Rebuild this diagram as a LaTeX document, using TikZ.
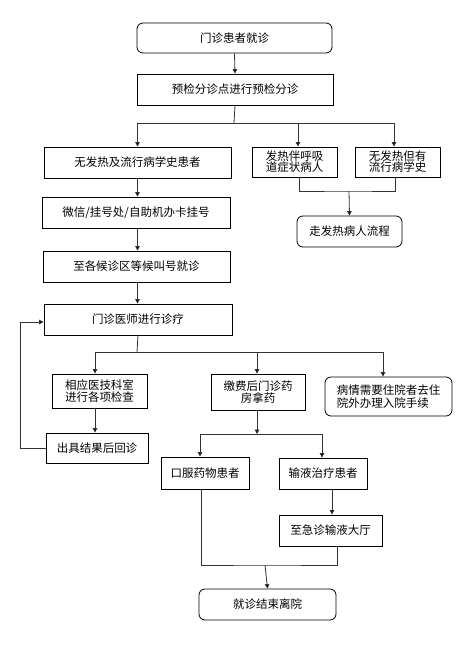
\documentclass[tikz,border=0pt]{standalone}
\usepackage{fontspec}
\setmainfont{Noto Sans CJK SC}
\usetikzlibrary{arrows.meta}
\tikzset{
  box/.style={draw=black, line width=0.8pt, fill=white, inner sep=1pt, font=\fontsize{11.5}{12.5}\selectfont, align=center},
  rbox/.style={box, rounded corners=6pt},
  conn/.style={draw=black!80, line width=0.8pt},
  arr/.style={conn, -{Triangle[width=4.5pt,length=4.5pt,fill=black]}}
}
\begin{document}
\begin{tikzpicture}[x=1pt,y=-1pt]
\useasboundingbox (0,0) rectangle (472,649);
\node[rbox, minimum width=195pt, minimum height=30pt] (n1) at (234.5,38) {门诊患者就诊};
\node[box, minimum width=196pt, minimum height=31pt] (n2) at (235,89.5) {预检分诊点进行预检分诊};
\node[box, minimum width=187pt, minimum height=31pt] (n3) at (137.5,162.5) {无发热及流行病学史患者};
\node[box, minimum width=85pt, minimum height=30pt, font=\fontsize{11.5}{11}\selectfont] (n4) at (294.5,162) {发热伴呼吸\\道症状病人};
\node[box, minimum width=85pt, minimum height=30pt, font=\fontsize{11.5}{11}\selectfont] (n5) at (397.5,162) {无发热但有\\流行病学史};
\node[rbox, minimum width=105pt, minimum height=31pt] (n6) at (349.5,231.5) {走发热病人流程};
\node[box, minimum width=188pt, minimum height=31pt] (n7) at (136,212.5) {微信/挂号处/自助机办卡挂号};
\node[box, minimum width=187pt, minimum height=31pt] (n8) at (136.5,266.5) {至各候诊区等候叫号就诊};
\node[box, minimum width=188pt, minimum height=31pt] (n9) at (138,319.5) {门诊医师进行诊疗};
\node[box, minimum width=95pt, minimum height=34pt, font=\fontsize{11.5}{11.5}\selectfont] (n10) at (99.5,391) {相应医技科室\\进行各项检查};
\node[box, minimum width=94pt, minimum height=36pt] (n11) at (258,392) {缴费后门诊药\\房拿药};
\node[rbox, minimum width=127pt, minimum height=39pt, align=left] (n12) at (388.5,396.5) {病情需要住院者去住\\院外办理入院手续};
\node[box, minimum width=102pt, minimum height=30pt] (n13) at (97,448) {出具结果后回诊};
\node[box, minimum width=88pt, minimum height=32pt] (n14) at (205,473) {口服药物患者};
\node[box, minimum width=88pt, minimum height=31pt] (n15) at (323,473.5) {输液治疗患者};
\node[box, minimum width=103pt, minimum height=31pt] (n16) at (330.5,530.5) {至急诊输液大厅};
\node[rbox, minimum width=137pt, minimum height=31pt] (n17) at (267.5,604.5) {就诊结束离院};

\coordinate (j1) at (234,123);
\coordinate (j2) at (349,191);
\coordinate (j3) at (137,352);
\coordinate (j4) at (257,434);
\coordinate (j5) at (265,565);

\draw[arr] (n1.south) -- (n2.north);
\draw[conn] (n2.south) -- (j1);
\draw[arr] (j1) -| (n3.north);
\draw[arr] (j1) -| ([xshift=3.5pt]n4.north);
\draw[arr] (j1) -| ([xshift=-3.5pt]n5.north);
\draw[conn] ([xshift=4.5pt]n4.south) |- (j2) -| ([xshift=-2.5pt]n5.south);
\draw[arr] (j2) -- (n6.north);
\draw[arr] (n3.south) -- (n3.south |- n7.north);
\draw[arr] (n3.south |- n7.south) -- (n3.south |- n8.north);
\draw[arr] (n3.south |- n8.south) -- (n3.south |- n9.north);
\draw[conn] (n9.south) -- (j3);
\draw[arr] (j3) -| ([xshift=-4.5pt]n10.north);
\draw[arr] (j3) -| ([xshift=-1pt]n11.north);
\draw[arr] (j3) -| ([xshift=-5.5pt]n12.north);
\draw[arr] ([xshift=-4.5pt]n10.south) -- ([xshift=-4.5pt]n10.south |- n13.north);
\draw[arr] (n13.west) -- ++(-25,0) |- ([yshift=-2.5pt]n9.west);
\draw[arr] ([xshift=-1pt]n11.south) -- (j4);
\draw[arr] (j4) -| ([xshift=-5pt]n14.north);
\draw[arr] (j4) -| ([xshift=-1pt]n15.north);
\draw[arr] ([xshift=9pt]n15.south) -- ([xshift=9pt]n15.south |- n16.north);
\draw[conn] ([xshift=-4pt]n14.south) |- (j5) -| ([xshift=6.5pt]n16.south);
\draw[arr] (j5) -- (n17.north);
\end{tikzpicture}
\end{document}
